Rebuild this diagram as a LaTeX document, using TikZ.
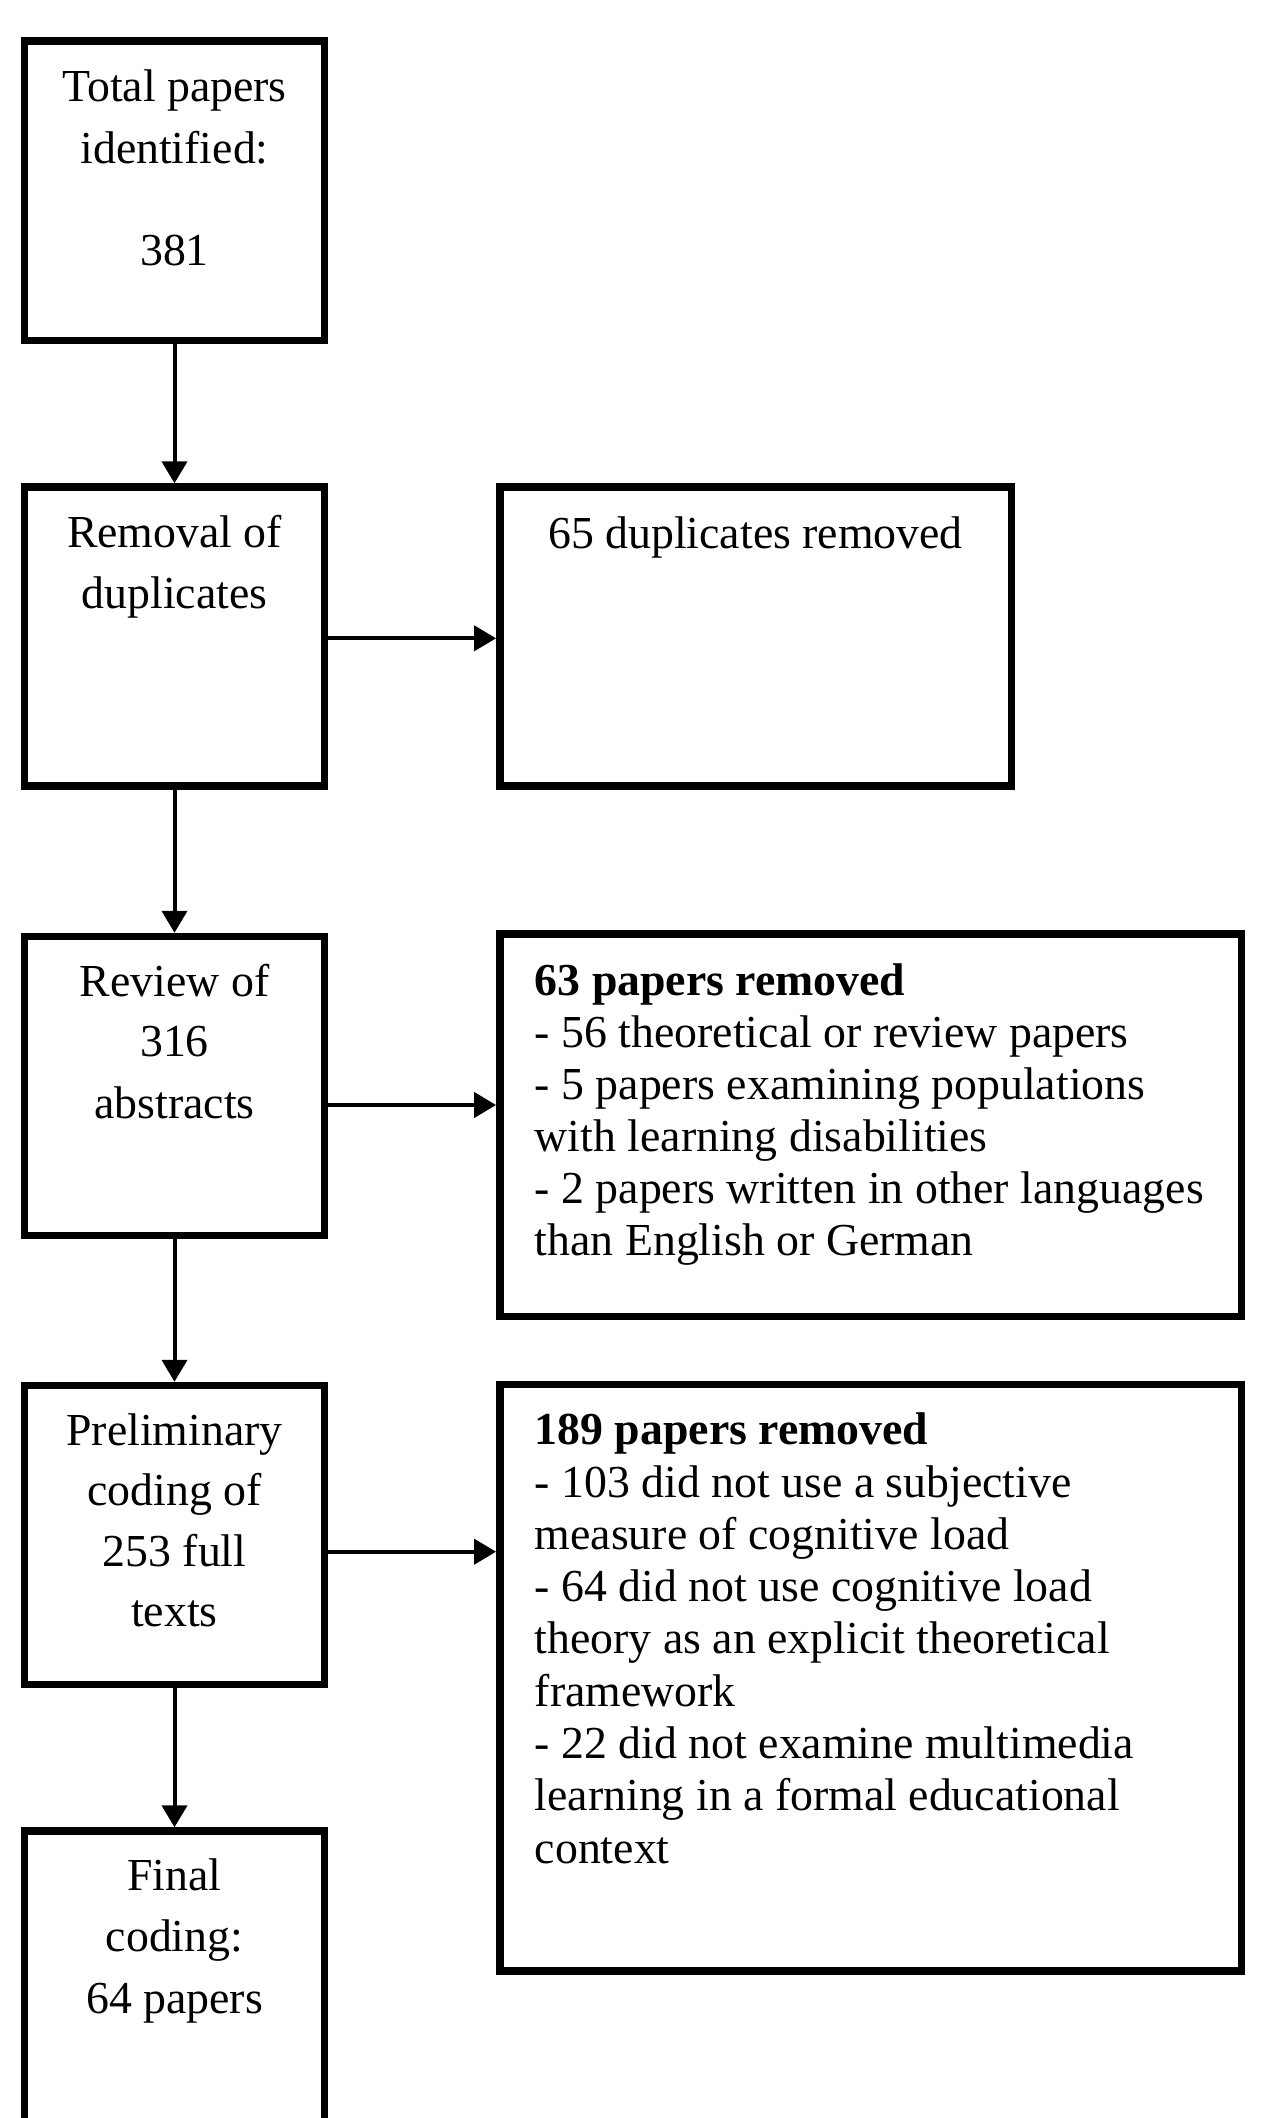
\documentclass[tikz,border=0pt]{standalone}
\usepackage{fontspec}
\setmainfont{Liberation Serif}
\usetikzlibrary{arrows.meta}
\tikzset{
  box/.style={draw=black, line width=7.4pt, inner sep=0pt, minimum width=#1, fill=white},
  box/.default=300pt,
  txt/.style={inner sep=0pt, anchor=base, font=\fontsize{45.8pt}{55pt}\selectfont},
  ltxt/.style={inner sep=0pt, anchor=base west, font=\fontsize{45.8pt}{55pt}\selectfont},
  arr/.style={line width=4pt, -{Triangle[length=22pt,width=25pt]}}
}
\begin{document}
\begin{tikzpicture}[x=1pt,y=-1pt]
\clip (0,0) rectangle (1275,2118);
\fill[white] (0,0) rectangle (1275,2118);
% left column boxes
\node[box, minimum height=299.5pt] (b1) at (174.5,190.75) {};
\node[box, minimum height=299pt] (b2) at (174.5,636.5) {};
\node[box, minimum height=299pt] (b3) at (174.5,1086) {};
\node[box, minimum height=299pt] (b4) at (174.5,1535) {};
\node[box, minimum height=320pt] (b5) at (174.5,1991) {};
% right column boxes
\node[box=511.4pt, minimum height=299pt] (r2) at (755.5,636.5) {};
\node[box=741.4pt, minimum height=382.7pt] (r3) at (870.5,1125.15) {};
\node[box=741.4pt, minimum height=586.5pt] (r4) at (870.5,1677.75) {};
% texts left column
\node[txt] (t1a) at (174.5,101.7) {Total papers};
\node[txt] (t1b) at (174.5,163) {identified:};
\node[txt] (t1c) at (174.5,265) {381};
\node[txt] (t2a) at (174.5,547.7) {Removal of};
\node[txt] (t2b) at (174.5,608.9) {duplicates};
\node[txt] (t3a) at (174.5,996) {Review of};
\node[txt] (t3b) at (174.5,1056.7) {316};
\node[txt] (t3c) at (174.5,1118.3) {abstracts};
\node[txt] (t4a) at (174.5,1445) {Preliminary};
\node[txt] (t4b) at (174.5,1505.5) {coding of};
\node[txt] (t4c) at (174.5,1566) {253 full};
\node[txt] (t4d) at (174.5,1626.6) {texts};
\node[txt] (t5a) at (174.5,1890.7) {Final};
\node[txt] (t5b) at (174.5,1951.7) {coding:};
\node[txt] (t5c) at (174.5,2013.3) {64 papers};
% texts right column
\node[txt] (s2) at (755.5,548.3) {65 duplicates removed};
\node[ltxt] (s3a) at (534.6,995) {\bfseries 63 papers removed};
\node[ltxt] (s3b) at (534.6,1047) {- 56 theoretical or review papers};
\node[ltxt] (s3c) at (534.6,1099) {- 5 papers examining populations};
\node[ltxt] (s3d) at (534.6,1151) {with learning disabilities};
\node[ltxt] (s3e) at (534.6,1203) {- 2 papers written in other languages};
\node[ltxt] (s3f) at (534.6,1255) {than English or German};
\node[ltxt] (s4a) at (534.6,1444.7) {\bfseries 189 papers removed};
\node[ltxt] (s4b) at (534.6,1497) {- 103 did not use a subjective};
\node[ltxt] (s4c) at (534.6,1549.3) {measure of cognitive load};
\node[ltxt] (s4d) at (534.6,1601.6) {- 64 did not use cognitive load};
\node[ltxt] (s4e) at (534.6,1653.9) {theory as an explicit theoretical};
\node[ltxt] (s4f) at (534.6,1706.2) {framework};
\node[ltxt] (s4g) at (534.6,1758.5) {- 22 did not examine multimedia};
\node[ltxt] (s4h) at (534.6,1810.8) {learning in a formal educational};
\node[ltxt] (s4i) at (534.6,1863.1) {context};
% vertical arrows
\draw[arr] (b1.south) -- (b2.north);
\draw[arr] (b2.south) -- (b3.north);
\draw[arr] (b3.south) -- (b4.north);
\draw[arr] (b4.south) -- (b5.north);
% horizontal arrows
\coordinate (h2) at (b2.east |- 0,638.3);
\coordinate (h3) at (b3.east |- 0,1105);
\coordinate (h4) at (b4.east |- 0,1551.7);
\draw[arr] (h2) -- (h2 -| r2.west);
\draw[arr] (h3) -- (h3 -| r3.west);
\draw[arr] (h4) -- (h4 -| r4.west);
\end{tikzpicture}
\end{document}
